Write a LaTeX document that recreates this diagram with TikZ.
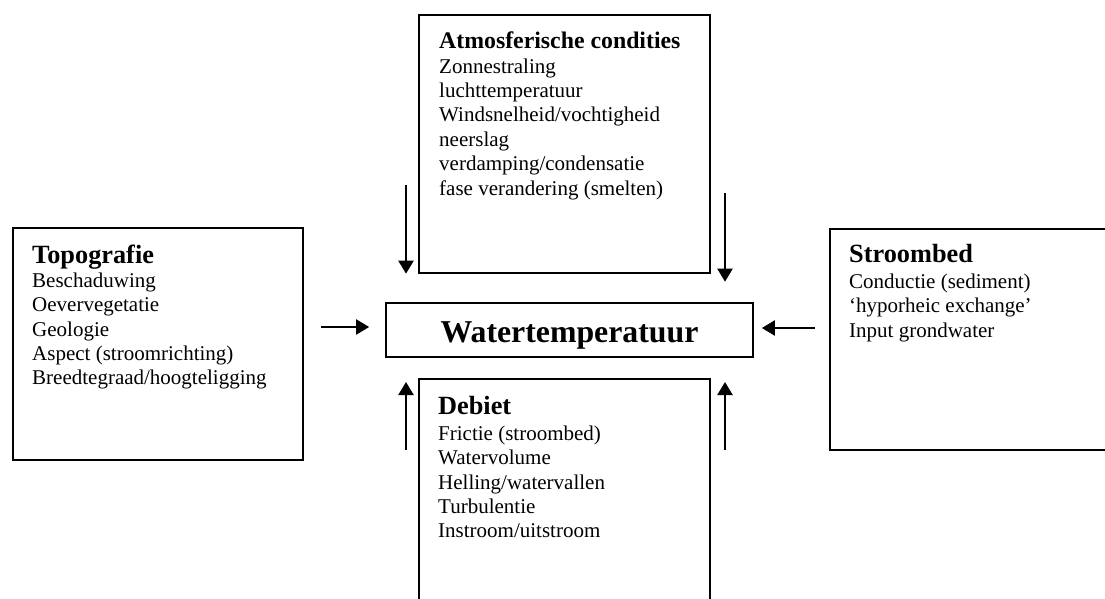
\documentclass[tikz,border=0pt]{standalone}
\usepackage{fontspec}
\setmainfont{Liberation Serif}
\usepackage{tikz}
\usetikzlibrary{arrows.meta, positioning}

\begin{document}
\begin{tikzpicture}[
    x=1pt, y=-1pt,
    font=\fontsize{21}{24.4}\selectfont,
    box/.style={rectangle, draw, line width=1.7pt, inner sep=0pt, anchor=north west},
    head/.style={anchor=base west, inner sep=0pt, font=\fontsize{#1}{30}\selectfont\bfseries},
    head/.default=26.3,
    items/.style={anchor=north west, inner sep=0pt, align=left},
    flow/.style={-{Triangle[width=15pt,length=13pt]}, line width=2.2pt},
]
    \useasboundingbox (0,0) rectangle (1105,599);

    % Boxes
    \node[box, minimum width=291pt, minimum height=258pt] (atmos) at (418,14) {};
    \node[box, minimum width=367pt, minimum height=54pt, anchor=center, text height=25.4pt, text depth=0pt,
          font=\fontsize{31.8}{36}\selectfont\bfseries] (water) at (569.5,330) {Watertemperatuur};
    \node[box, minimum width=291pt, minimum height=250pt] (debiet) at (418,378) {};
    \node[box, minimum width=290pt, minimum height=232pt] (topo) at (12,227) {};
    \node[box, minimum width=300pt, minimum height=221pt] (stroom) at (829,228) {};

    % Texts
    \node[head=23.8] (atmoshead) at ([shift={(21,35)}]atmos.north west) {Atmosferische condities};
    \node[items] (atmositems) at ([shift={(21,42)}]atmos.north west)
      {\rule{0pt}{17pt}Zonnestraling\\luchttemperatuur\\Windsnelheid/vochtigheid\\neerslag\\verdamping/condensatie\\fase verandering (smelten)};

    \node[head] (topohead) at ([shift={(20,36)}]topo.north west) {Topografie};
    \node[items] (topoitems) at ([shift={(20,43)}]topo.north west)
      {\rule{0pt}{17pt}Beschaduwing\\Oevervegetatie\\Geologie\\Aspect (stroomrichting)\\Breedtegraad/hoogteligging};

    \node[head] (stroomhead) at ([shift={(20,34)}]stroom.north west) {Stroombed};
    \node[items] (stroomitems) at ([shift={(20,43)}]stroom.north west)
      {\rule{0pt}{17pt}Conductie (sediment)\\`hyporheic exchange'\\Input grondwater};

    \node[head] (debiethead) at ([shift={(20,36)}]debiet.north west) {Debiet};
    \node[items] (debietitems) at ([shift={(20,45)}]debiet.north west)
      {\rule{0pt}{17pt}Frictie (stroombed)\\Watervolume\\Helling/watervallen\\Turbulentie\\Instroom/uitstroom};

    % Arrows
    \coordinate (atmosL) at (406,185);
    \coordinate (atmosR) at (725,193);
    \coordinate (debietL) at (406,450);
    \coordinate (debietR) at (725,450);
    \coordinate (topoA) at (321,327);
    \coordinate (stroomA) at (815,328);

    \draw[flow] (atmosL) -- (atmosL |- atmos.south);
    \draw[flow] (atmosR) -- ([yshift=-8pt]atmosR |- atmos.south);
    \draw[flow] (debietL) -- ([yshift=-4pt]debietL |- debiet.north);
    \draw[flow] (debietR) -- ([yshift=-4pt]debietR |- debiet.north);
    \draw[flow] (topoA) -- ([xshift=-16pt]topoA -| water.west);
    \draw[flow] (stroomA) -- ([xshift=8pt]stroomA -| water.east);

\end{tikzpicture}
\end{document}
